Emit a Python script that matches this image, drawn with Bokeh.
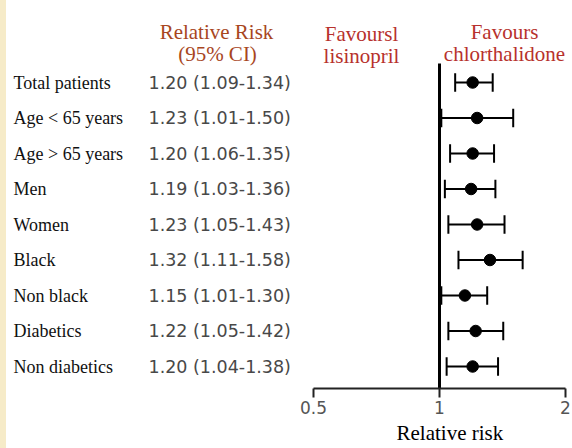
from bokeh.plotting import figure
from bokeh.models import Range1d, FixedTicker, Title, ColumnDataSource, BasicTickFormatter, LinearScale
from bokeh.core.properties import value
from bokeh.embed import file_html
from bokeh.resources import INLINE

# ---- data ----
groups = ["Total patients", "Age < 65 years", "Age > 65 years", "Men", "Women",
          "Black", "Non black", "Diabetics", "Non diabetics"]
rr = [1.20, 1.23, 1.20, 1.19, 1.23, 1.32, 1.15, 1.22, 1.20]
lo = [1.09, 1.01, 1.06, 1.03, 1.05, 1.11, 1.01, 1.05, 1.04]
hi = [1.34, 1.50, 1.35, 1.36, 1.43, 1.58, 1.30, 1.42, 1.38]
ticks = [0.5, 1, 2]
tick_labels = ["0.5", "1", "2"]

# ---- layout constants (pixels) ----
W, H = 572, 448
FRAME_H = 388
ROW0, ROWH = 82, 35.5
X05, PX_PER_DOUBLING = 313, 126

rows = list(range(len(groups)))
ci_text = [f"{r:.2f} ({a:.2f}-{b:.2f})" for r, a, b in zip(rr, lo, hi)]
src = ColumnDataSource(dict(row=rows, group=groups, rr=rr, lo=lo, hi=hi, ci=ci_text,
                            cap0=[r - 0.26 for r in rows], cap1=[r + 0.26 for r in rows]))

xr = Range1d(0.5 * 2 ** (-X05 / PX_PER_DOUBLING),
             0.5 * 2 ** ((W - X05) / PX_PER_DOUBLING))
yr = Range1d((FRAME_H - ROW0) / ROWH, -ROW0 / ROWH)

p = figure(width=W, height=H, x_axis_type="log", x_range=xr, y_range=yr,
           y_axis_location=None, toolbar_location=None, output_backend="svg",
           min_border_left=0, min_border_right=0, min_border_top=0, min_border_bottom=H - FRAME_H)
p.extra_x_ranges = {"px": Range1d(0, W)}
p.extra_x_scales = {"px": LinearScale()}
p.extra_y_ranges = {"py": Range1d(FRAME_H, 0)}
p.extra_y_scales = {"py": LinearScale()}
p.outline_line_color = None
p.grid.visible = False
p.background_fill_color = None
p.border_fill_color = None
p.styles = {"background": "linear-gradient(to right, #f6ebc8 0px, #f6ebc8 6px, #ffffff 6px)"}

# axis
ax = p.xaxis[0]
ax.ticker = FixedTicker(ticks=ticks)
ax.formatter = BasicTickFormatter()
ax.major_label_overrides = {t: l for t, l in zip(ticks, tick_labels)}
ax.bounds = (ticks[0], ticks[-1])
ax.axis_line_width = 2
ax.axis_line_color = "#222222"
ax.major_tick_line_width = 2
ax.major_tick_line_color = "#222222"
ax.major_tick_out = 9
ax.major_tick_in = 0
ax.minor_tick_out = 0
ax.minor_tick_in = 0
ax.major_label_text_font = "DejaVu Sans"
ax.major_label_text_font_size = "17px"
ax.major_label_text_color = "#555555"
ax.major_label_standoff = 3

# axis title, placed as a panel below the axis
p.add_layout(Title(text="Relative risk", align="left", offset=396, standoff=5,
                   text_font="Liberation Serif", text_font_size="21px",
                   text_font_style="normal", text_color="black"), "below")

# vertical reference line at RR = 1
p.segment(x0=[1], x1=[1], y0=[63], y1=[FRAME_H], y_range_name="py",
          line_width=3, line_color="black")

# CIs
p.segment(x0="lo", x1="hi", y0="row", y1="row", source=src, line_width=2, line_color="black")
p.segment(x0="lo", x1="lo", y0="cap0", y1="cap1", source=src, line_width=2, line_color="black")
p.segment(x0="hi", x1="hi", y0="cap0", y1="cap1", source=src, line_width=2, line_color="black")
p.scatter(x="rr", y="row", source=src, size=11.5, color="black")

# row labels
p.text(x=13, y="row", text="group", source=src, x_range_name="px",
       text_font=value("Liberation Serif"), text_font_size="18px",
       text_baseline="middle", text_align="left", text_color="#111111")
p.text(x=148, y="row", text="ci", source=src, x_range_name="px",
       text_font=value("DejaVu Sans"), text_font_size="17.5px",
       text_baseline="middle", text_align="left", text_color="#484848")

# headers
hdr_brown = "#a8461e"
hdr_red = "#b7312c"
headers = [
    ("Relative Risk", 216, 31, hdr_brown),
    ("(95% CI)", 217, 53, hdr_brown),
    ("Favoursl", 361, 33, hdr_red),
    ("lisinopril", 361, 55, hdr_red),
    ("Favours", 504, 31, hdr_red),
    ("chlorthalidone", 504, 53, hdr_red),
]
for t, x, y, c in headers:
    p.text(x=[x], y=[y], text=[t], x_range_name="px", y_range_name="py",
           text_font=value("Liberation Serif"), text_font_size="21px",
           text_baseline="alphabetic", text_align="center", text_color=c)

open("out.html", "w").write(file_html(p, INLINE))
